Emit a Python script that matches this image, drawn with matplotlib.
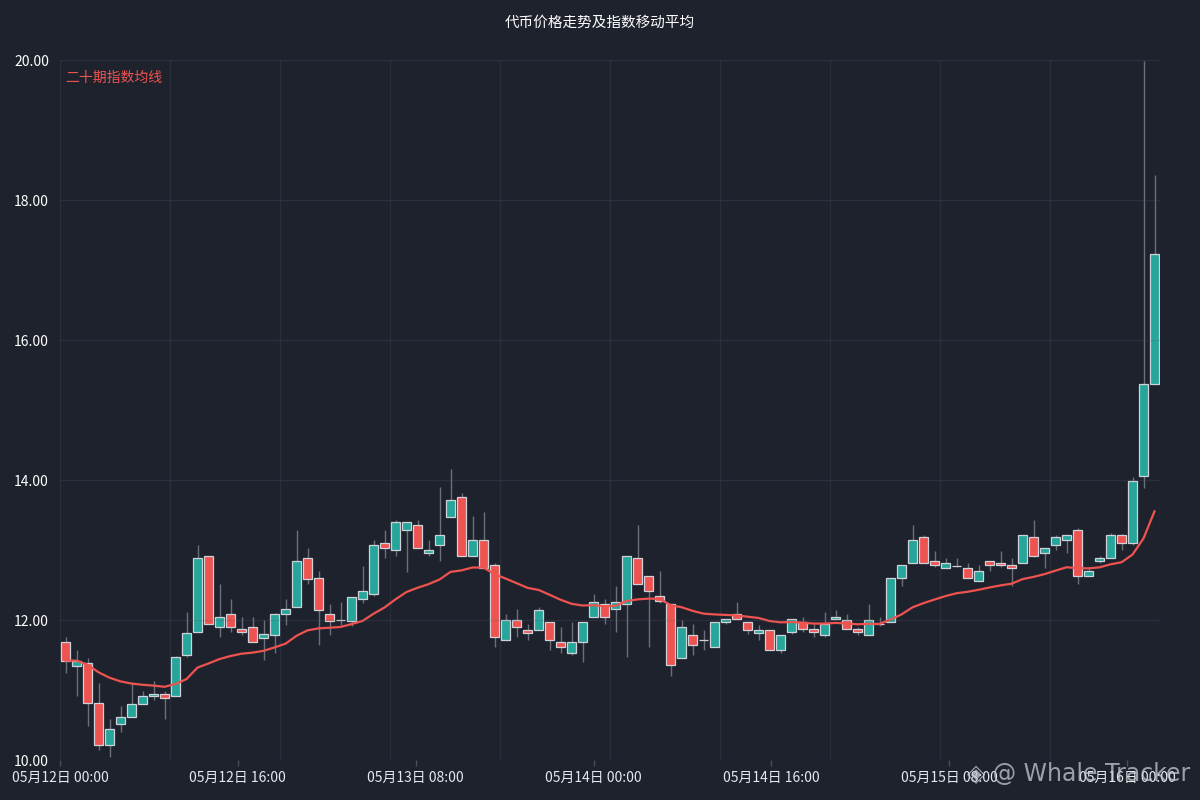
import numpy as np
import pandas as pd
import matplotlib
matplotlib.use("Agg")
import matplotlib.pyplot as plt

plt.rcParams['font.family'] = ['Noto Sans CJK SC', 'DejaVu Sans']

# ---------------- data ----------------
opens = [11.68, 11.35, 11.39, 10.81, 10.22, 10.51, 10.62, 10.80, 10.91, 10.95,
         10.91, 11.50, 11.83, 12.92, 11.90, 12.08, 11.87, 11.90, 11.75, 11.79,
         12.08, 12.19, 12.89, 12.60, 12.08, 12.00, 11.98, 12.30, 12.37, 13.10,
         13.00, 13.29, 13.36, 12.96, 13.07, 13.47, 13.76, 12.92, 13.14, 12.78,
         11.71, 12.00, 11.86, 11.86, 11.97, 11.68, 11.53, 11.68, 12.05, 12.23,
         12.16, 12.23, 12.89, 12.63, 12.34, 12.23, 11.46, 11.79, 11.71, 11.61,
         11.97, 12.08, 11.97, 11.82, 11.86, 11.57, 11.83, 11.97, 11.87, 11.79,
         12.01, 12.00, 11.87, 11.79, 11.94, 11.97, 12.60, 12.81, 13.18, 12.85,
         12.74, 12.77, 12.74, 12.56, 12.85, 12.81, 12.78, 12.81, 13.18, 12.96,
         13.07, 13.14, 13.29, 12.63, 12.85, 12.89, 13.21, 13.10, 14.06, 15.37]
highs = [11.76, 11.57, 11.46, 11.10, 10.59, 10.77, 11.12, 10.98, 11.13, 10.99,
         11.49, 12.12, 13.07, 12.92, 12.51, 12.30, 12.04, 12.05, 12.00, 12.10,
         12.30, 13.29, 13.03, 12.70, 12.23, 12.26, 12.33, 12.77, 13.14, 13.29,
         13.43, 13.40, 13.43, 13.14, 13.90, 14.16, 13.81, 13.48, 13.55, 12.81,
         12.09, 12.16, 11.94, 12.18, 11.97, 11.90, 11.97, 11.97, 12.37, 12.30,
         12.49, 12.92, 13.36, 12.63, 12.70, 12.23, 12.00, 11.94, 11.86, 11.97,
         12.02, 12.26, 11.97, 11.93, 11.86, 11.79, 12.01, 12.05, 11.95, 12.12,
         12.15, 12.09, 11.90, 12.23, 12.05, 12.60, 12.78, 13.36, 13.21, 12.99,
         12.88, 12.88, 12.81, 12.78, 12.85, 12.99, 12.88, 13.21, 13.43, 13.03,
         13.21, 13.21, 13.31, 12.76, 12.92, 13.24, 13.23, 14.05, 19.99, 18.36]
lows = [11.25, 10.92, 10.48, 10.15, 10.04, 10.40, 10.61, 10.80, 10.86, 10.59,
        10.91, 11.47, 11.83, 11.94, 11.76, 11.83, 11.79, 11.68, 11.43, 11.53,
        11.93, 12.19, 12.52, 11.64, 11.79, 11.93, 11.91, 12.24, 12.34, 12.89,
        12.91, 12.68, 13.03, 12.92, 12.85, 13.47, 12.92, 12.92, 12.74, 11.62,
        11.71, 11.76, 11.71, 11.86, 11.57, 11.53, 11.50, 11.40, 12.05, 11.94,
        11.83, 11.47, 12.52, 11.62, 12.24, 11.20, 11.46, 11.50, 11.57, 11.61,
        11.95, 12.01, 11.80, 11.71, 11.57, 11.53, 11.80, 11.83, 11.76, 11.76,
        12.01, 11.87, 11.79, 11.79, 11.92, 11.97, 12.49, 12.81, 12.81, 12.76,
        12.74, 12.76, 12.60, 12.56, 12.70, 12.76, 12.49, 12.81, 12.90, 12.74,
        13.00, 12.96, 12.52, 12.63, 12.81, 12.89, 13.00, 13.07, 13.88, 15.37]
closes = [11.42, 11.42, 10.81, 10.22, 10.44, 10.62, 10.80, 10.91, 10.95, 10.88,
          11.47, 11.82, 12.88, 11.94, 12.04, 11.90, 11.83, 11.68, 11.80, 12.08,
          12.16, 12.85, 12.59, 12.15, 11.98, 12.00, 12.33, 12.41, 13.07, 13.03,
          13.40, 13.40, 13.03, 13.00, 13.21, 13.72, 12.92, 13.14, 12.74, 11.76,
          12.00, 11.90, 11.82, 12.15, 11.71, 11.61, 11.68, 11.97, 12.26, 12.05,
          12.26, 12.92, 12.52, 12.41, 12.27, 11.36, 11.90, 11.64, 11.71, 11.97,
          12.01, 12.01, 11.86, 11.86, 11.57, 11.79, 12.01, 11.87, 11.83, 11.95,
          12.05, 11.87, 11.83, 12.00, 11.94, 12.60, 12.78, 13.14, 12.81, 12.78,
          12.81, 12.77, 12.60, 12.70, 12.78, 12.78, 12.74, 13.21, 12.92, 13.03,
          13.18, 13.21, 12.63, 12.70, 12.89, 13.21, 13.10, 13.98, 15.37, 17.23]

y_ticks = [10.0, 12.0, 14.0, 16.0, 18.0, 20.0]
x_tick_labels = ["05月12日 00:00", "05月12日 16:00", "05月13日 08:00",
                 "05月14日 00:00", "05月14日 16:00", "05月15日 08:00",
                 "05月16日 00:00"]
title_text = "代币价格走势及指数移动平均"
ma_label = "二十期指数均线"
ma_span = 20

# ---------------- style ----------------
BG = "#1e222d"
UP = "#26a69a"
DOWN = "#ef5350"
EDGE = "#cfd2d8"
WICK = "#6b6f7a"

o = np.array(opens); h = np.array(highs); l = np.array(lows); c = np.array(closes)
idx = np.arange(len(o))
ma = pd.Series(c).ewm(span=ma_span, adjust=False).mean().values

fig = plt.figure(figsize=(12, 8), dpi=100, facecolor=BG)
ax = fig.add_axes([0.05, 0.05, 0.9167, 0.875], facecolor=BG)

up = c >= o
colors = np.where(up, UP, DOWN)
ax.vlines(idx, l, h, color=WICK, linewidth=1.0, zorder=2)
ax.bar(idx, np.abs(c - o), bottom=np.minimum(o, c), width=0.8,
       color=colors, edgecolor=EDGE, linewidth=0.9, zorder=3)
ax.plot(idx, ma, color=DOWN, linewidth=1.6, zorder=4)

ax.set_xlim(-0.5, len(o) - 0.5)
ax.set_ylim(y_ticks[0], y_ticks[-1])

# grid
ax.set_yticks(y_ticks)
ax.set_yticklabels([f"{v:.2f}" for v in y_ticks])
for v in y_ticks:
    ax.axhline(v, color=(0.36, 0.38, 0.45, 0.22), linewidth=1.0, zorder=5)
for xv in np.arange(-0.5, len(o) + 0.5, 10):
    ax.axvline(xv, color=(0.36, 0.38, 0.45, 0.18), linewidth=1.0, zorder=1)

xt = np.linspace(-0.5, 96.5, len(x_tick_labels))
ax.set_xticks(xt)
ax.set_xticklabels(x_tick_labels)

for s in ax.spines.values():
    s.set_visible(False)
ax.tick_params(axis='y', length=0, pad=8, labelsize=10, labelcolor="white")
ax.tick_params(axis='x', length=4, width=1, color="#4a4e5a", pad=4,
               labelsize=10, labelcolor="#e6e8ee")

ax.text(0.005, 0.985, ma_label, transform=ax.transAxes, color=DOWN,
        fontsize=10, ha='left', va='top')
fig.text(0.5, 0.972, title_text, color="white", fontsize=10.5,
         ha='center', va='center')

# watermark
fig.text(0.992, 0.033, "◈ @ Whale Tracker", color="#c8cad0", alpha=0.75,
         fontsize=17, ha='right', va='center', family=['DejaVu Sans'])

fig.savefig("out.png", dpi=100, facecolor=BG)
